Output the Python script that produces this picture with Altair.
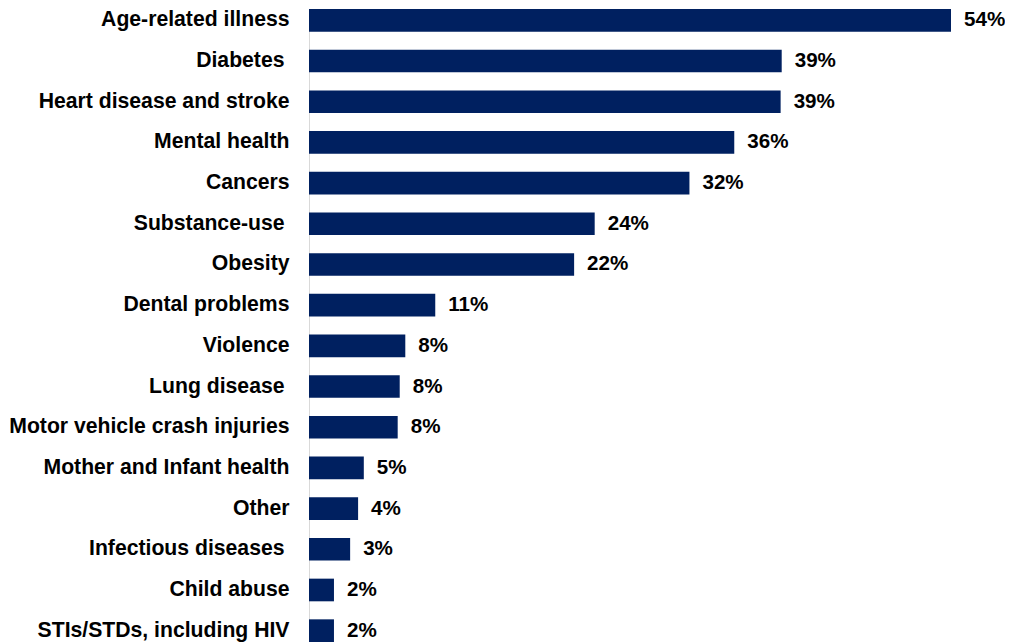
import altair as alt
import pandas as pd

categories = [
    "Age-related illness",
    "Diabetes ",
    "Heart disease and stroke",
    "Mental health",
    "Cancers",
    "Substance-use ",
    "Obesity",
    "Dental problems",
    "Violence",
    "Lung disease ",
    "Motor vehicle crash injuries",
    "Mother and Infant health",
    "Other",
    "Infectious diseases ",
    "Child abuse",
    "STIs/STDs, including HIV",
]
values = [54.0, 39.76, 39.67, 35.77, 32.0, 24.03, 22.3, 10.62, 8.1, 7.63, 7.46, 4.61, 4.13, 3.46, 2.1, 2.1]
labels = ["54%", "39%", "39%", "36%", "32%", "24%", "22%", "11%", "8%", "8%", "8%", "5%", "4%", "3%", "2%", "2%"]

df = pd.DataFrame({"cat": categories, "value": values, "label": labels})

FONT = "Liberation Sans"

base = alt.Chart(df).encode(
    y=alt.Y(
        "cat:N",
        sort=None,
        scale=alt.Scale(paddingInner=0.443, paddingOuter=0),
        axis=alt.Axis(
            title=None,
            ticks=False,
            labelPadding={
                "condition": {"test": "slice(datum.value, -1) == ' '", "value": 25},
                "value": 20,
            },
            labelFont=FONT,
            labelFontWeight="bold",
            labelFontSize=21.2,
            labelColor="#000000",
            labelLimit=400,
            domainColor="#d9d9d9",
            domainWidth=1,
            grid=False,
        ),
    )
)

bars = base.mark_bar(color="#002060").encode(
    x=alt.X("value:Q", scale=alt.Scale(domain=[0, 54], nice=False, zero=True), axis=None)
)

text = base.mark_text(
    align="left", baseline="middle", dx=13, font=FONT, fontSize=20.6,
    fontWeight="bold", color="#000000"
).encode(
    x=alt.X("value:Q"),
    text="label:N",
)

chart = (bars + text).properties(
    width=642,
    height=633,
    autosize=alt.AutoSizeParams(type="none"),
    padding={"left": 301, "top": 1, "right": 54, "bottom": 0},
).configure_view(stroke=None)

chart.save("out.html", embed_options={"renderer": "svg", "actions": False})
